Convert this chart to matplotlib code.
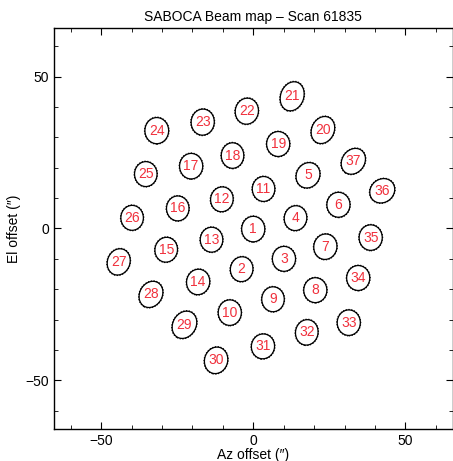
import matplotlib
matplotlib.use('Agg')
import matplotlib.pyplot as plt
from matplotlib.patches import Ellipse

# beam centres (arcsec)
beam_id = list(range(1, 38))
az = [0.0, -3.8, 10.1, 13.9, 18.0, 28.0, 23.7, 20.4, 6.5, -7.7,
      3.4, -10.3, -13.7, -18.1, -28.6, -24.8, -20.4, -6.8, 8.2, 22.9,
      12.8, -2.1, -16.6, -31.7, -35.3, -39.8, -44.2, -33.6, -22.6, -12.2,
      3.2, 17.6, 31.4, 34.5, 38.6, 42.4, 32.9]
el = [-0.2, -13.4, -10.0, 3.4, 17.5, 7.8, -6.0, -20.3, -23.3, -27.7,
      13.0, 9.6, -3.7, -17.6, -7.0, 6.6, 20.5, 24.0, 27.8, 32.4,
      43.5, 38.6, 35.0, 32.2, 17.9, 3.5, -11.0, -21.7, -31.7, -43.4,
      -38.8, -34.2, -31.0, -16.3, -3.0, 12.4, 22.1]
# fitted ellipse sizes (arcsec) and position angle (deg)
major = [8.4, 8.2, 8.2, 8.2, 8.6, 8.2, 8.4, 8.2, 8.2, 8.4,
         8.2, 8.2, 8.2, 8.4, 8.2, 8.2, 8.4, 8.4, 8.2, 9.2,
         9.8, 8.6, 8.6, 8.6, 8.2, 8.2, 8.8, 9.0, 9.4, 8.8,
         8.2, 8.4, 8.4, 8.2, 8.4, 8.6, 9.0]
minor = [7.6, 7.4, 7.6, 7.4, 7.6, 7.6, 7.6, 7.6, 7.4, 7.6,
         7.4, 7.4, 7.4, 7.6, 7.4, 7.4, 7.6, 7.4, 7.6, 7.4,
         7.6, 7.6, 7.6, 7.8, 7.4, 7.4, 7.4, 7.4, 7.6, 7.6,
         7.6, 7.4, 7.6, 7.6, 7.6, 7.6, 7.4]
angle = [90, 80, 90, 80, 60, 90, 80, 90, 90, 90,
         90, 80, 90, 80, 80, 90, 90, 90, 90, 65,
         70, 80, 85, 90, 90, 90, 70, 60, 60, 75,
         80, 80, 90, 90, 90, 40, 55]

plt.rcParams['font.family'] = ['Liberation Sans', 'DejaVu Sans']

fig = plt.figure(figsize=(4.53, 4.61), dpi=100)
ax = fig.add_axes([0.119, 0.0694, 0.880, 0.870])

for i in range(len(beam_id)):
    ax.add_patch(Ellipse((az[i], el[i]), minor[i], major[i], angle=angle[i] - 90,
                         fill=False, ec='black', lw=0.9))
    ax.add_patch(Ellipse((az[i], el[i]), minor[i] * 1.03, major[i] * 1.03, angle=angle[i] - 90,
                         fill=False, ec='black', lw=0.9, ls=(0, (1, 1.2))))
    ax.text(az[i], el[i], str(beam_id[i]), color='#f0303c', fontsize=10,
            ha='center', va='center')

ax.set_xlim(-65.5, 65.5)
ax.set_ylim(-66, 66)
ax.set_xticks([-50, 0, 50])
ax.set_yticks([-50, 0, 50])
ax.set_xticks(range(-60, 61, 10), minor=True)
ax.set_yticks(range(-60, 61, 10), minor=True)
ax.tick_params(which='both', direction='in', top=True, right=True, labelsize=10)
ax.tick_params(which='major', length=5)
ax.tick_params(which='minor', length=3)
ax.set_xticklabels(['\u221250', '0', '50'])
ax.set_yticklabels(['\u221250', '0', '50'])
for s in ax.spines.values():
    s.set_linewidth(1.0)

ax.set_title('SABOCA Beam map \u2013 Scan 61835', fontsize=10, pad=5)
ax.set_xlabel('Az offset (\u2033)', fontsize=10, labelpad=0)
ax.set_ylabel('El offset (\u2033)', fontsize=10, labelpad=3)

fig.savefig('out.png', dpi=100)
